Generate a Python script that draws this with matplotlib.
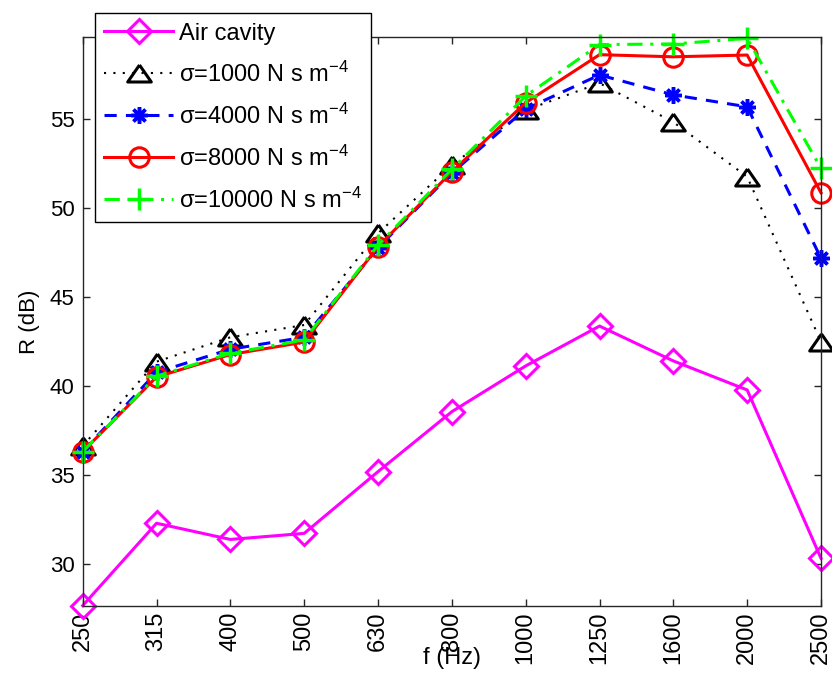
import numpy as np
import matplotlib
matplotlib.use("Agg")
import matplotlib.pyplot as plt

plt.rcParams['font.family'] = ['Liberation Sans', 'DejaVu Sans']
plt.rcParams['mathtext.fontset'] = 'custom'
plt.rcParams['mathtext.rm'] = 'Liberation Sans'

# third-octave band centres (evenly spaced on the axis)
freq_labels = ['250', '315', '400', '500', '630', '800', '1000', '1250', '1600', '2000', '2500']

# sound reduction index R (dB)
air_cavity = [27.64, 32.27, 31.36, 31.70, 35.17, 38.54, 41.11, 43.35, 41.39, 39.76, 30.30]
sigma_1000 = [36.61, 41.35, 42.72, 43.41, 48.56, 52.40, 55.48, 57.00, 54.81, 51.74, 42.47]
sigma_4000 = [36.30, 40.75, 42.05, 42.72, 47.75, 51.95, 55.55, 57.46, 56.34, 55.67, 47.16]
sigma_8000 = [36.29, 40.49, 41.75, 42.45, 47.81, 52.02, 55.90, 58.60, 58.48, 58.58, 50.84]
sigma_10000 = [36.29, 40.54, 41.82, 42.57, 47.90, 52.16, 56.28, 59.17, 59.20, 59.52, 52.21]

x = np.arange(len(freq_labels))

fig = plt.figure(figsize=(8.32, 6.75), dpi=100)
ax = fig.add_axes([82.7 / 832, 69 / 675, (821 - 82.7) / 832, (606 - 36.7) / 675])

tri = [(0, 0.72), (-1, -0.72), (1, -0.72), (0, 0.72)]

ax.plot(x, air_cavity, color='#ff00ff', linestyle='-', linewidth=2.2,
        marker='D', markersize=12, markerfacecolor='none', markeredgewidth=2.2,
        label='Air cavity', clip_on=False)
ax.plot(x, sigma_1000, color='black', linestyle=(0, (1, 3.5)), linewidth=1.5,
        marker=tri, markersize=17, markerfacecolor='none', markeredgewidth=2.2,
        label=r'σ=1000 N s m$\mathregular{^{-4}}$', clip_on=False)
ax.plot(x, sigma_4000, color='#0000ff', linestyle=(0, (4, 3)), linewidth=2.2,
        marker=(8, 2, 0), markersize=12, markeredgewidth=2.5,
        label=r'σ=4000 N s m$\mathregular{^{-4}}$', clip_on=False)
ax.plot(x, sigma_8000, color='#ff0000', linestyle='-', linewidth=2.2,
        marker='o', markersize=14, markerfacecolor='none', markeredgewidth=2.2,
        label=r'σ=8000 N s m$\mathregular{^{-4}}$', clip_on=False)
ax.plot(x, sigma_10000, color='#00ff00', linestyle=(0, (5, 2.5, 1, 2.5)), linewidth=2.2,
        marker='+', markersize=16, markeredgewidth=2.5,
        label=r'σ=10000 N s m$\mathregular{^{-4}}$', clip_on=False)

ax.set_xlim(0, len(freq_labels) - 1)
ax.set_ylim(27.62, 59.61)
ax.set_xticks(x)
ax.set_xticklabels(freq_labels, rotation=90)
ax.set_yticks([30, 35, 40, 45, 50, 55])

ax.tick_params(direction='in', length=5, width=1, top=True, right=True,
               labelsize=16, colors='#262626', labelcolor='black')
ax.tick_params(axis='x', pad=4, labelsize=17)
ax.tick_params(axis='y', pad=6)
for sp in ax.spines.values():
    sp.set_color('#262626')
    sp.set_linewidth(1.0)

ax.set_xlabel('f (Hz)', fontsize=17)
ax.xaxis.set_label_coords(0.5, -0.072)
ax.set_ylabel('R (dB)', fontsize=16)
ax.yaxis.set_label_coords(-0.058, 0.5)

leg = ax.legend(loc='upper left', bbox_to_anchor=(95 / 832, 1 - 13.3 / 675),
                bbox_transform=fig.transFigure, borderaxespad=0, fontsize=17,
                numpoints=1, handlelength=2.9, handletextpad=0.25, labelspacing=0.71,
                borderpad=0.4, fancybox=False, framealpha=1, edgecolor='black')
leg.get_frame().set_linewidth(1.0)

fig.savefig('out.png', dpi=100)
